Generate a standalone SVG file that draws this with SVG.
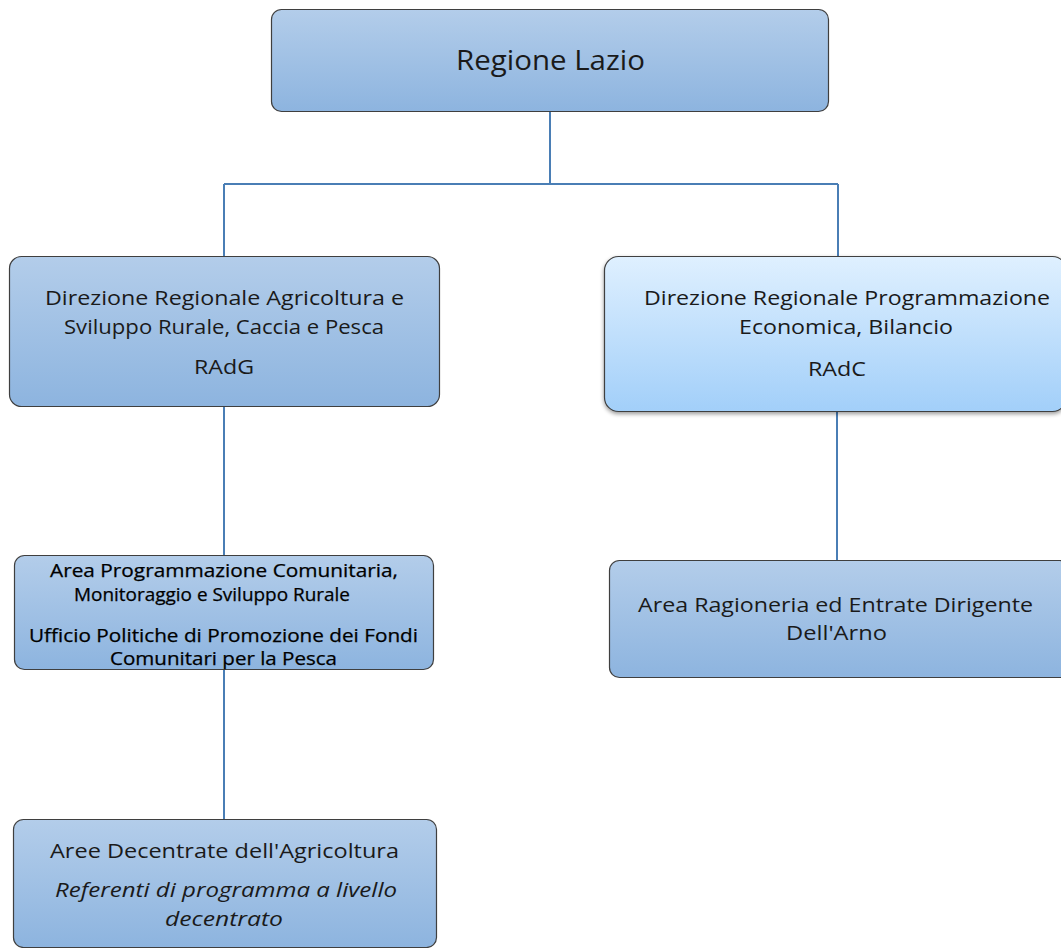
<svg xmlns="http://www.w3.org/2000/svg" width="1061" height="948" viewBox="0 0 1061 948">
<style>
.box{stroke:#3f3f3f;stroke-width:1.2;}
.t{font-family:"Open Sans","Liberation Sans",sans-serif;fill:#1a1a1a;text-anchor:middle;}
.s{font-size:17.5px;fill:#000;stroke:#000;stroke-width:0.25;}
.c{stroke:#4a7eb5;stroke-width:2;fill:none;}
</style>
<defs>
<linearGradient id="g1" x1="0" y1="0" x2="0" y2="1">
<stop offset="0" stop-color="#b3cdea"/>
<stop offset="1" stop-color="#8db4df"/>
</linearGradient>
<linearGradient id="g2" x1="0" y1="0" x2="0" y2="1">
<stop offset="0" stop-color="#dff0ff"/>
<stop offset="1" stop-color="#a2cff9"/>
</linearGradient>
<filter id="sh" x="-5%" y="-5%" width="110%" height="120%">
<feGaussianBlur in="SourceAlpha" stdDeviation="2"/>
<feOffset dx="0" dy="2"/>
<feComponentTransfer><feFuncA type="linear" slope="0.4"/></feComponentTransfer>
<feMerge><feMergeNode/><feMergeNode in="SourceGraphic"/></feMerge>
</filter>
</defs>
<rect width="1061" height="948" fill="#ffffff"/>
<g id="connectors">
<path class="c" d="M550 111 V184 M224 184 H838 M224 184 V256 M838 184 V256"/>
<path class="c" d="M224 406 V555"/>
<path class="c" d="M224 669 V819"/>
<path class="c" d="M837 412 V560"/>
</g>
<g id="regione-lazio">
<rect class="box" x="271.5" y="9.5" width="557" height="102" rx="10" fill="url(#g1)"/>
<text class="t" x="550.5" y="70" font-size="28" textLength="189" lengthAdjust="spacingAndGlyphs">Regione Lazio</text>
</g>
<g id="direzione-agricoltura">
<rect class="box" x="9.5" y="256.5" width="430" height="150" rx="12" fill="url(#g1)"/>
<text class="t" x="224.5" y="305" font-size="20.5" textLength="359" lengthAdjust="spacingAndGlyphs">Direzione Regionale Agricoltura e</text>
<text class="t" x="224" y="334" font-size="20.5" textLength="320" lengthAdjust="spacingAndGlyphs">Sviluppo Rurale, Caccia e Pesca</text>
<text class="t" x="224" y="374" font-size="20.5" textLength="60" lengthAdjust="spacingAndGlyphs">RAdG</text>
</g>
<g id="direzione-programmazione">
<rect class="box" x="604.5" y="256.5" width="462" height="155" rx="14" fill="url(#g2)" filter="url(#sh)"/>
<text class="t" x="847" y="305" font-size="20.5" textLength="406" lengthAdjust="spacingAndGlyphs">Direzione Regionale Programmazione</text>
<text class="t" x="846" y="334" font-size="20.5" textLength="214" lengthAdjust="spacingAndGlyphs">Economica, Bilancio</text>
<text class="t" x="837" y="376" font-size="20.5" textLength="58" lengthAdjust="spacingAndGlyphs">RAdC</text>
</g>
<g id="area-programmazione">
<rect class="box" x="14.5" y="555.5" width="419" height="114" rx="10" fill="url(#g1)"/>
<text class="t s" x="224" y="577" textLength="348" lengthAdjust="spacingAndGlyphs">Area Programmazione Comunitaria,</text>
<text class="t s" x="212" y="601" textLength="276" lengthAdjust="spacingAndGlyphs">Monitoraggio e Sviluppo Rurale</text>
<text class="t s" x="223.5" y="642" textLength="389" lengthAdjust="spacingAndGlyphs">Ufficio Politiche di Promozione dei Fondi</text>
<text class="t s" x="223.5" y="665" textLength="227" lengthAdjust="spacingAndGlyphs">Comunitari per la Pesca</text>
</g>
<g id="area-ragioneria">
<rect class="box" x="609.5" y="560.5" width="460" height="117" rx="10" fill="url(#g1)"/>
<text class="t" x="835.5" y="612" font-size="20.5" textLength="395" lengthAdjust="spacingAndGlyphs">Area Ragioneria ed Entrate Dirigente</text>
<text class="t" x="836.5" y="640" font-size="20.5" textLength="101" lengthAdjust="spacingAndGlyphs">Dell'Arno</text>
</g>
<g id="aree-decentrate">
<rect class="box" x="13.5" y="819.5" width="423" height="128" rx="10" fill="url(#g1)"/>
<text class="t" x="224.5" y="858" font-size="20.5" textLength="349" lengthAdjust="spacingAndGlyphs">Aree Decentrate dell'Agricoltura</text>
<text class="t" x="226" y="897" font-size="20.5" font-style="italic" textLength="342" lengthAdjust="spacingAndGlyphs">Referenti di programma a livello</text>
<text class="t" x="224" y="926" font-size="20.5" font-style="italic" textLength="118" lengthAdjust="spacingAndGlyphs">decentrato</text>
</g>
</svg>
